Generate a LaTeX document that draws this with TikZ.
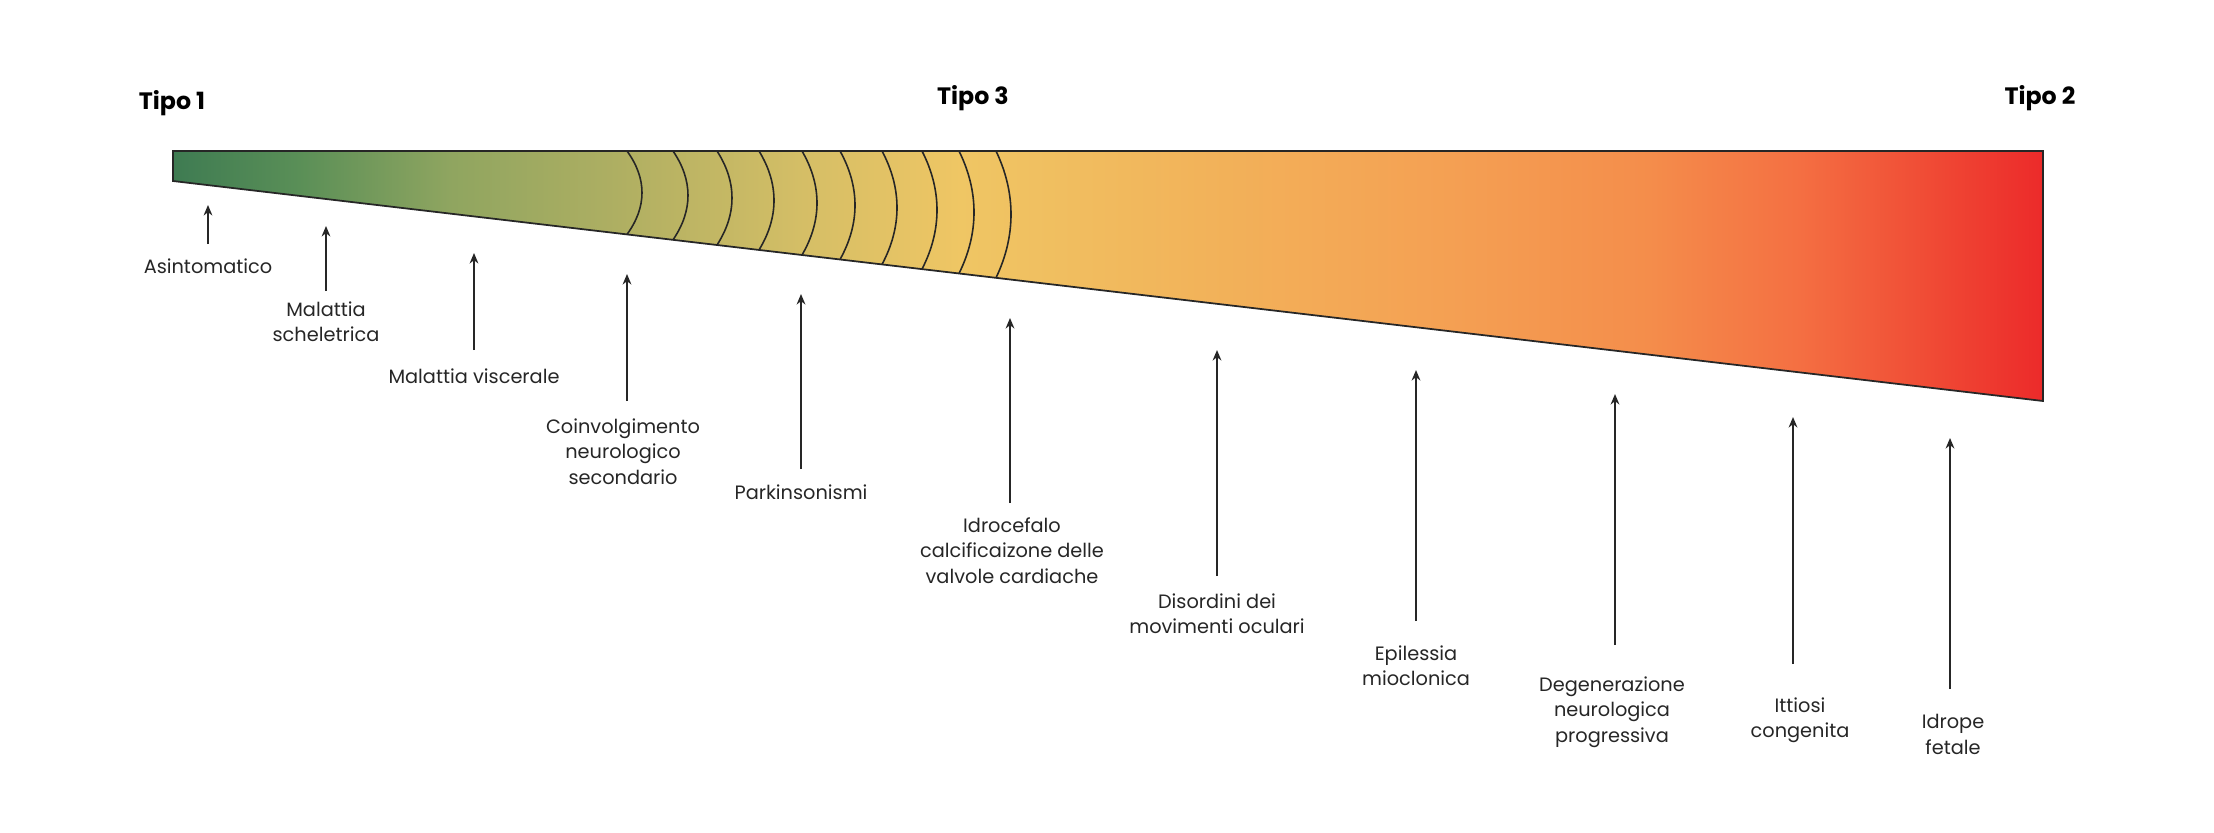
\documentclass[tikz,border=0pt]{standalone}
\usepackage{fontspec}
\setmainfont{Poppins}
\usetikzlibrary{arrows.meta}
\definecolor{c0}{HTML}{3E7B52}\definecolor{c1}{HTML}{5A8F57}\definecolor{c2}{HTML}{8FA560}
\definecolor{c3}{HTML}{AFAF62}\definecolor{c4}{HTML}{D4BE66}\definecolor{c5}{HTML}{EFC664}
\definecolor{c6}{HTML}{F2B35A}\definecolor{c7}{HTML}{F4A053}\definecolor{c8}{HTML}{F48D4B}
\definecolor{c9}{HTML}{F46F42}\definecolor{c10}{HTML}{EF4533}\definecolor{c11}{HTML}{EC2A2A}
\begin{document}
\begin{tikzpicture}[x=0.02cm,y=-0.02cm,
  lbl/.style={anchor=north,align=center,inner sep=0pt,font=\fontsize{11}{14.5}\selectfont,text=black!85},
  ttl/.style={inner sep=0pt,font=\fontsize{13.5}{16}\selectfont\bfseries},
  arr/.style={-{Stealth[length=6pt,width=5pt]},line width=0.9pt,black!85},
  arc/.style={line width=0.9pt,black!85}]
\useasboundingbox (0,0) rectangle (2214,832);
\begin{scope}
\clip (173,151) -- (2043,151) -- (2043,401) -- (173,181) -- cycle;
\foreach \a/\b/\ca/\cb in {172/300/c0/c1,299/450/c1/c2,449/620/c2/c3,619/800/c3/c4,799/960/c4/c5,959/1200/c5/c6,1199/1450/c6/c7,1449/1650/c7/c8,1649/1800/c8/c9,1799/1950/c9/c10,1949/2044/c10/c11}
  \shade[left color=\ca,right color=\cb] (\a,140) rectangle (\b,410);
\end{scope}
\foreach \x in {627,673,717,759,802,840,882,922,959,996}{
  \pgfmathsetmacro\yb{181+(\x-173)*0.117647}
  \pgfmathsetmacro\ya{151+0.33*(\yb-151)}
  \pgfmathsetmacro\yc{151+0.67*(\yb-151)}
  \draw[arc] (\x,151) .. controls (\x+20,\ya) and (\x+20,\yc) .. (\x,\yb);
}
\draw[line width=1pt,black!85] (173,151) -- (2043,151) -- (2043,401) -- (173,181) -- cycle;
\node[ttl] (t1) at (172,103) {Tipo 1};
\node[ttl] (t3) at (973,98) {Tipo 3};
\node[ttl] (t2) at (2040,98) {Tipo 2};
\foreach \n/\x/\tip/\tail/\ly/\lx/\txt in {
 a/208/205/244/258/208/Asintomatico,
 b/326/226/291/301/326/{Malattia\\scheletrica},
 c/474/253/350/368/474/Malattia viscerale,
 d/627/274/401/418/623/{Coinvolgimento\\neurologico\\secondario},
 e/801/294/469/484/801/Parkinsonismi,
 f/1010/318/503/517/1012/{Idrocefalo\\calcificaizone delle\\valvole cardiache},
 g/1217/350/576/593/1217/{Disordini dei\\movimenti oculari},
 h/1416/370/621/645/1416/{Epilessia\\mioclonica},
 i/1615/394/645/676/1612/{Degenerazione\\neurologica\\progressiva},
 j/1793/417/664/697/1800/{Ittiosi\\congenita},
 k/1950/438/689/714/1953/{Idrope\\fetale}}{
  \coordinate (\n s) at (\x,\tail);
  \coordinate (\n t) at (\x,\tip);
  \draw[arr] (\n s) -- (\n t);
  \node[lbl] (\n l) at (\lx,\ly) {\txt};
}
\end{tikzpicture}
\end{document}
